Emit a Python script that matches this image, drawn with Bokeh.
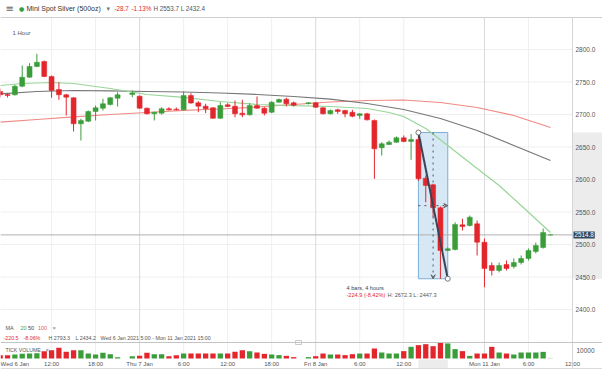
from bokeh.plotting import figure
from bokeh.models import Range1d, Label, Arrow, VeeHead, ColumnDataSource, Span
from bokeh.core.properties import value
from bokeh.embed import file_html
from bokeh.resources import INLINE

# ---------------- data (hourly candles, index = hours since Wed 6 Jan 00:00, weekend collapsed) ----
idx = [5, 6, 7, 8, 9, 10, 11, 12, 13, 14, 15, 16, 17, 18, 19, 20, 21,
       23, 24, 25, 26, 27, 28, 29, 30, 31, 32, 33, 34, 35, 36, 37, 38, 39, 40, 41, 42, 43, 44, 45,
       47, 48, 49, 50, 51, 52, 53, 54, 55, 56, 57, 58, 59, 60, 61, 62, 63, 64, 65, 66, 67, 68, 69,
       70, 71, 72, 73, 74, 75, 76, 77, 78, 79, 80]
opens = [2735.4, 2730.8, 2730.3, 2743.5, 2757.4, 2773.8, 2781.5, 2758.5, 2738.5, 2730.3, 2725.7, 2685.7,
         2689.7, 2704.6, 2709.7, 2715.4, 2725.1,
         2730.8, 2728.2, 2709.7, 2701.1, 2702.0, 2708.8, 2708.2, 2707.2, 2729.2, 2718.0, 2712.8, 2710.3,
         2694.3, 2714.9, 2712.8, 2702.0, 2699.5, 2713.8, 2709.7, 2703.5, 2718.9, 2723.5, 2718.0,
         2716.9, 2718.0, 2710.3, 2701.1, 2707.2, 2706.2, 2703.5, 2698.5, 2701.1, 2690.8, 2648.8, 2653.8,
         2657.4, 2664.2, 2658.5, 2661.5, 2602.0, 2591.9, 2556.5, 2490.8, 2492.3, 2530.3, 2529.2,
         2531.8, 2503.5, 2467.7, 2460.0, 2469.2, 2466.2, 2472.3, 2478.5, 2489.2, 2495.4, 2514.8]
highs = [2740.0, 2733.1, 2745.7, 2775.4, 2778.9, 2793.3, 2783.1, 2760.0, 2749.7, 2731.8, 2726.5, 2693.4,
         2706.2, 2713.8, 2724.2, 2726.6, 2734.3,
         2736.9, 2729.2, 2710.8, 2704.2, 2711.2, 2711.2, 2710.8, 2735.4, 2732.8, 2720.5, 2716.5, 2711.2,
         2718.9, 2717.4, 2721.5, 2722.6, 2717.4, 2727.7, 2711.2, 2720.5, 2724.6, 2725.7, 2720.0,
         2719.2, 2719.2, 2711.2, 2707.7, 2708.8, 2707.2, 2707.2, 2702.0, 2702.6, 2692.3, 2657.4, 2660.0,
         2666.2, 2667.7, 2670.0, 2672.3, 2606.2, 2593.4, 2558.5, 2495.4, 2534.3, 2539.5, 2544.6,
         2536.9, 2509.2, 2472.3, 2472.3, 2475.4, 2478.5, 2483.1, 2493.8, 2503.1, 2524.6, 2515.5]
lows = [2726.2, 2726.2, 2729.2, 2742.0, 2756.5, 2772.8, 2757.4, 2725.7, 2722.6, 2698.5, 2673.8, 2660.0,
        2688.2, 2690.8, 2706.2, 2713.8, 2712.3,
        2726.6, 2708.8, 2700.0, 2690.8, 2700.0, 2706.2, 2706.2, 2706.2, 2716.5, 2703.5, 2702.0, 2693.4,
        2693.4, 2711.2, 2695.8, 2695.8, 2698.5, 2708.8, 2698.5, 2702.0, 2718.5, 2712.3, 2712.3,
        2715.4, 2710.0, 2700.0, 2700.0, 2701.1, 2695.8, 2695.8, 2693.4, 2690.8, 2601.1, 2636.9, 2653.0,
        2656.5, 2657.4, 2630.3, 2598.0, 2565.1, 2542.0, 2447.3, 2490.0, 2490.8, 2521.5, 2527.7,
        2483.1, 2434.2, 2452.3, 2457.0, 2460.0, 2463.1, 2469.2, 2475.4, 2486.2, 2493.8, 2514.0]
closes = [2730.3, 2729.2, 2743.5, 2757.4, 2773.8, 2780.5, 2758.5, 2736.9, 2730.3, 2726.6, 2685.7, 2690.8,
          2704.6, 2710.3, 2716.5, 2725.7, 2730.3,
          2733.1, 2709.7, 2701.1, 2703.5, 2708.8, 2707.2, 2707.2, 2729.2, 2717.7, 2712.8, 2708.8, 2694.3,
          2713.8, 2712.3, 2701.1, 2699.5, 2713.8, 2709.7, 2702.0, 2718.9, 2723.1, 2716.5, 2714.3,
          2718.0, 2711.2, 2701.1, 2706.2, 2704.6, 2701.1, 2697.4, 2701.1, 2691.8, 2647.2, 2654.9, 2657.4,
          2664.2, 2658.5, 2661.5, 2601.1, 2590.8, 2556.5, 2490.8, 2493.4, 2530.8, 2527.7, 2542.0,
          2503.5, 2463.1, 2460.0, 2467.7, 2463.1, 2472.3, 2478.5, 2490.8, 2498.5, 2518.5, 2514.8]
volumes = [4200, 4200, 5000, 5800, 6200, 6700, 9200, 10400, 13300, 8300, 10400, 10400, 6200, 5000, 7100,
           5400, 1700,
           2900, 3300, 7100, 5400, 5400, 2900, 4200, 6200, 6200, 6200, 6200, 6200, 6200, 6200, 8300, 10400,
           9200, 7500, 5800, 5000, 4200, 3300, 1700,
           1700, 2900, 6200, 5000, 5000, 4200, 5400, 6200, 6200, 12500, 7500, 6200, 6200, 9200, 14600,
           16700, 17900, 15400, 19600, 18800, 11700, 9200, 3300,
           6200, 6200, 14600, 7500, 6200, 5000, 7500, 7500, 7500, 8300, 800]

# moving averages
ma_x = [5, 10, 15, 20, 25, 30, 35, 40, 45, 50, 55, 60, 65, 70, 75, 80]
ma100 = [2688.2, 2692.3, 2696.2, 2700.0, 2703.1, 2706.2, 2708.5, 2711.5, 2715.4, 2719.2, 2721.5, 2722.3,
         2718.5, 2710.8, 2698.5, 2680.0]
ma50 = [2731.8, 2735.4, 2736.9, 2736.2, 2735.4, 2734.6, 2733.1, 2730.8, 2727.7, 2723.8, 2716.9, 2707.7,
        2693.8, 2675.4, 2652.3, 2629.2]
ma20_x = [5, 8, 12, 15, 20, 25, 30, 35, 40, 45, 50, 55, 58, 60, 63, 66, 70, 73, 76, 80]
ma20 = [2744.6, 2747.7, 2749.2, 2747.7, 2740.0, 2730.8, 2726.2, 2720.0, 2715.4, 2713.8, 2712.3, 2709.2,
        2703.1, 2696.9, 2678.5, 2652.3, 2616.9, 2590.8, 2560.0, 2518.5]

last_price = 2514.8
price_ticks = [2400, 2450, 2500, 2550, 2600, 2650, 2700, 2750, 2800]
price_tick_labels = ["2400.0", "2450.0", "2500.0", "2550.0", "2600.0", "2650.0", "2700.0", "2750.0", "2800.0"]
vol_ticks = [10000]
vol_tick_labels = ["10000"]
time_ticks = [7, 12, 18, 24, 30, 36, 42, 48, 54, 60, 71, 77, 83]
time_labels = ["Wed 6 Jan", "12:00", "18:00", "Thu 7 Jan", "6:00", "12:00", "18:00", "Fri 8 Jan",
               "6:00", "12:00", "Mon 11 Jan", "6:00", "12:00"]
day_ticks = [24, 48, 71]
hour_ticks = [12, 18, 30, 36, 42, 54, 60, 77, 83]

# measurement tool
m_start, m_end = 62, 66
m_high, m_low = 2672.3, 2447.3

# ---------------- layout helpers (pixel -> data) ----------------
W, H = 602, 369
SX = 572 / 77.96          # px per candle
X0 = 5.04                 # index at left edge
SY = 0.65                 # px per price unit
YT = 2800 + 49 / SY       # price at top edge


def XP(px):
    return X0 + px / SX


def YP(py):
    return YT - py / SY


PLOT_R = 572
PANE_T, PANE_DIV, PANE_B = 17, 342, 358

FONT = "Liberation Sans"
GREEN = "#3a9d3a"
RED = "#e2262c"
GREY_TXT = "#555555"

p = figure(width=W, height=H, output_backend="svg", toolbar_location=None,
           x_range=Range1d(XP(0), XP(W)), y_range=Range1d(YP(H), YP(0)),
           x_axis_location=None, y_axis_location=None, min_border=0)
p.background_fill_color = "white"
p.border_fill_color = "white"
p.outline_line_color = None
for g in p.grid:
    g.visible = False

# volume scale: 1250 per pixel, zero at the pane bottom
p.extra_y_ranges = {"vol": Range1d(-(H - PANE_B) * 1250.0, PANE_B * 1250.0)}

# ---------- grid / frame lines ----------
p.segment(x0=[XP(0)] * len(price_ticks), x1=[XP(PLOT_R)] * len(price_ticks),
          y0=price_ticks, y1=price_ticks, line_color="#efefef", line_width=1)
p.segment(x0=hour_ticks, x1=hour_ticks, y0=[YP(PANE_B)] * len(hour_ticks),
          y1=[YP(PANE_T)] * len(hour_ticks), line_color="#efefef", line_width=1)
p.segment(x0=day_ticks, x1=day_ticks, y0=[YP(PANE_B)] * len(day_ticks),
          y1=[YP(PANE_T)] * len(day_ticks), line_color="#dadada", line_width=1)

# axis highlight of the measured range (price axis and time axis)
p.quad(left=[XP(PLOT_R)], right=[XP(W)], top=[m_high], bottom=[m_low],
       fill_color="#ececec", line_color=None)
p.quad(left=[m_start], right=[m_end], top=[YP(PANE_B + 1)], bottom=[YP(H)],
       fill_color="#ececec", line_color=None)

p.add_layout(Span(location=YP(PANE_T), dimension="width", line_color="#cfcfcf", line_width=1))
p.add_layout(Span(location=YP(PANE_DIV), dimension="width", line_color="#c4c4c4", line_width=1))
p.add_layout(Span(location=YP(H - 1), dimension="width", line_color="#dcdcdc", line_width=1))
p.segment(x0=[XP(PLOT_R)], x1=[XP(PLOT_R)], y0=[YP(H)], y1=[YP(PANE_T)], line_color="#d6d6d6")
# pane resize handle
p.rect(x=[XP(298)], y=[YP(PANE_DIV)], width=6, height=4, width_units="screen", height_units="screen",
       fill_color="white", line_color="#bdbdbd", line_width=0.8)

# measurement box (behind candles)
p.quad(left=[m_start], right=[m_end], top=[m_high], bottom=[m_low],
       fill_color="#cfe3f5", fill_alpha=0.85, line_color="#7eaed6", line_width=1)

# last price line
p.segment(x0=[XP(0)], x1=[XP(PLOT_R)], y0=[last_price], y1=[last_price], line_color="#b0b0b0")

# moving averages
p.line(ma_x, ma100, line_color="#f08a84", line_width=1.2)
p.line(ma_x, ma50, line_color="#777777", line_width=1.2)
p.line(ma20_x, ma20, line_color="#98d598", line_width=1.2)

# candles
colors = [GREEN if c >= o else RED for o, c in zip(opens, closes)]
tops = [max(o, c) for o, c in zip(opens, closes)]
bots = [min(o, c) for o, c in zip(opens, closes)]
vcolors = list(colors)
vcolors[-1] = "#cccccc"
src = ColumnDataSource(dict(x=idx, high=highs, low=lows, top=tops, bottom=bots, color=colors,
                            vol=volumes, vcolor=vcolors))
p.segment(x0="x", x1="x", y0="low", y1="high", line_color="color", line_width=1, source=src)
p.vbar(x="x", width=0.68, top="top", bottom="bottom", fill_color="color", line_color="color",
       line_width=0.5, source=src)

# volume
p.vbar(x="x", width=0.72, top="vol", bottom=0, fill_color="vcolor", line_color=None,
       source=src, y_range_name="vol")

# measurement overlay
m_mid = (m_high + m_low) / 2
p.add_layout(Arrow(end=VeeHead(size=4, line_color="#555555", line_width=1, fill_color=None),
                   x_start=(m_start + m_end) / 2, y_start=m_high, x_end=(m_start + m_end) / 2, y_end=m_low,
                   line_color="#555555", line_dash="dotted", line_width=1))
p.add_layout(Arrow(end=VeeHead(size=4, line_color="#555555", line_width=1, fill_color=None),
                   x_start=m_start, y_start=m_mid, x_end=m_end, y_end=m_mid,
                   line_color="#555555", line_dash="dotted", line_width=1))
p.line([m_start, m_end], [m_high, m_low], line_color="#3a4455", line_width=2)
p.scatter([m_start, m_end], [m_high, m_low], size=5, fill_color="white", line_color="#777777")

# ---------- axis tick labels ----------
p.text(x=[XP(PLOT_R + 3)] * len(price_ticks), y=price_ticks, text=price_tick_labels,
       text_font=value(FONT), text_font_size="6.5px", text_color=GREY_TXT,
       text_align="left", text_baseline="middle")
p.text(x=[XP(PLOT_R + 4)], y=vol_ticks, text=vol_tick_labels, y_range_name="vol",
       text_font=value(FONT), text_font_size="6.5px", text_color=GREY_TXT,
       text_align="left", text_baseline="middle")
p.text(x=time_ticks, y=[YP(363.5)] * len(time_ticks), text=time_labels,
       text_font=value(FONT), text_font_size="6px", text_color=GREY_TXT,
       text_align="center", text_baseline="middle")


# ---------------- texts ----------------
def lab(text, px, py, color=GREY_TXT, size="6px", align="left", font=FONT, **kw):
    p.add_layout(Label(x=XP(px), y=YP(py), text=text, text_color=color, text_font_size=size,
                       text_font=font, text_align=align, text_baseline="middle", **kw))


# last price tag
p.add_layout(Label(x=XP(PLOT_R + 1), y=last_price, text="2514.8", text_color="white",
                   text_font_size="6.3px", text_font=FONT, text_align="left", text_baseline="middle",
                   background_fill_color="#33475b", background_fill_alpha=1.0, padding=1))

# header
lab("\u2261", 5, 8, color="#666666", size="10px", font="DejaVu Sans")
lab("\u25cf", 18.5, 8, color="#2ea043", size="6px", font="DejaVu Sans")
lab("Mini Spot Silver (500oz)", 26, 8, color="#333333", size="7px")
lab("\u25be", 106, 8, color="#777777", size="7px", font="DejaVu Sans")
lab("-28.7", 114, 8, color=RED, size="6.3px")
lab("-1.13%", 131, 8, color=RED, size="6.3px")
lab("H 2553.7  L 2432.4", 153, 8, color=GREY_TXT, size="6.3px")
lab("1 Hour", 12, 32, color=GREY_TXT, size="6px")

# indicator legend
lab("MA", 5, 327, size="5.5px")
lab("20", 20, 327, color="#3aa63a", size="5.5px")
lab("50", 27.5, 327, color="#444444", size="5.5px")
lab("100", 37.5, 327, color="#e0605a", size="5.5px")
lab("\u00d7", 52, 327, color="#777777", size="6px")
lab("-220.5", 3, 337.5, color=RED, size="5.3px")
lab("-8.06%", 23, 337.5, color=RED, size="5.3px")
lab("H 2793.3", 48, 337.5, size="5.3px")
lab("L 2434.2", 75, 337.5, size="5.3px")
lab("Wed 6 Jan 2021 5:00 - Mon 11 Jan 2021 15:00", 100, 337.5, size="5.3px")
lab("TICK VOLUME", 5, 349, size="5.2px")
lab("\u00d7", 45, 349, color="#777777", size="6px")

# measurement text
lab("4 bars, 4 hours", 346, 287, size="5.6px", color="#444444")
lab("-224.9 (-8.42%)", 346, 294, size="5.6px", color=RED)
lab("H: 2672.3 L: 2447.3", 387, 294, size="5.6px", color=GREY_TXT)

open("out.html", "w").write(file_html(p, INLINE))
